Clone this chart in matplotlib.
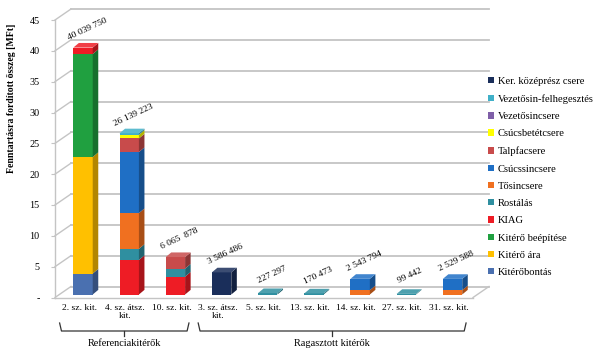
import numpy as np
import matplotlib
matplotlib.use("Agg")
import matplotlib.pyplot as plt
import matplotlib.colors as mcolors
from matplotlib.patches import Polygon, Patch
from matplotlib.transforms import offset_copy, blended_transform_factory

plt.rcParams['font.family'] = ['Liberation Serif', 'DejaVu Serif']

# categories and group brackets
categories = ["2. sz. kit.", "4. sz. átsz.\nkit.", "10. sz. kit.", "3. sz. átsz.\nkit.",
              "5. sz. kit.", "13. sz. kit.", "14. sz. kit.", "27. sz. kit.", "31. sz. kit."]
total_labels = ["40 039 750", "26 139 223", "6 065  878", "3 586 486", "227 297",
                "170 473", "2 543 794", "99 442", "2 529 588"]
groups = ["Referenciakitérők", "Ragasztott kitérők"]
group_ranges = [(0, 2), (3, 8)]

# series values [MFt], in stacking order (bottom -> top)
series_names = ["Kitérőbontás", "Kitérő ára", "Kitérő beépítése", "KIAG", "Rostálás",
                "Tősincsere", "Csúcssincsere", "Talpfacsere", "Csúcsbetétcsere",
                "Vezetősincsere", "Vezetősin-felhegesztés", "Ker. középrész csere"]
kiterobontas     = [3.4, 0, 0, 0, 0, 0, 0, 0, 0]
kitero_ara       = [18.9, 0, 0, 0, 0, 0, 0, 0, 0]
kitero_beepitese = [16.7, 0, 0, 0, 0, 0, 0, 0, 0]
kiag             = [1.04, 5.6, 2.9, 0, 0, 0, 0, 0, 0]
rostalas         = [0, 1.8, 1.3, 0, 0.227, 0.170, 0, 0.099, 0]
tosincsere       = [0, 5.8, 0, 0, 0, 0, 0.7, 0, 0.7]
csucssincsere    = [0, 9.9, 0, 0, 0, 0, 1.84, 0, 1.83]
talpfacsere      = [0, 2.2, 1.87, 0, 0, 0, 0, 0, 0]
csucsbetetcsere  = [0, 0.6, 0, 0, 0, 0, 0, 0, 0]
vezetosincsere   = [0, 0, 0, 0, 0, 0, 0, 0, 0]
vezetosin_felheg = [0, 0.24, 0, 0, 0, 0, 0, 0, 0]
ker_kozepresz    = [0, 0, 0, 3.59, 0, 0, 0, 0, 0]
series_values = [kiterobontas, kitero_ara, kitero_beepitese, kiag, rostalas, tosincsere,
                 csucssincsere, talpfacsere, csucsbetetcsere, vezetosincsere,
                 vezetosin_felheg, ker_kozepresz]
series_colors = ["#4a70b0", "#ffc000", "#20a040", "#ee1c25", "#2f8fa0", "#f07020",
                 "#1f6fc5", "#c84b4b", "#ffff00", "#7f5fa8", "#40b0c8", "#1a2e5a"]

W, H = 600, 356
fig = plt.figure(figsize=(6, 3.56), dpi=100)
ax = fig.add_axes([55 / W, (H - 297.5) / H, (473 - 55) / W, (297.5 - 20) / H])
x0, x1 = -0.52, 8.53
ax.set_xlim(x0, x1)
ax.set_ylim(0, 45)

grid_c = "#c4c4c4"
# pseudo-3D walls: depth in data units
dwx, dwy = 16 / 46.2, 11 / 6.17
yticks = np.arange(0, 46, 5)
for t in yticks:
    ax.plot([x0 + dwx, x1 + dwx], [t + dwy, t + dwy], color=grid_c, lw=1.3, clip_on=False, zorder=0)
    ax.plot([x0, x0 + dwx], [t, t + dwy], color=grid_c, lw=1.0, clip_on=False, zorder=0)
ax.plot([x1, x1 + dwx], [0, dwy], color=grid_c, lw=1.0, clip_on=False, zorder=0)

# bars
trans_bar = offset_copy(ax.transData, fig=fig, x=4, y=3, units='dots')
w, ddx, ddy = 0.42, 0.12, 0.75
xs = np.arange(len(categories))
bottom = np.zeros(len(categories))
top_color = [None] * len(categories)
for vals, col in zip(series_values, series_colors):
    vals = np.array(vals, dtype=float)
    rgb = np.array(mcolors.to_rgb(col))
    dark = rgb * 0.7
    for i in xs:
        v = vals[i]
        if v <= 0:
            continue
        b = bottom[i]
        ax.bar(i, v, w, bottom=b, color=col, lw=0, transform=trans_bar, zorder=3, clip_on=False)
        side = [(i + w / 2, b), (i + w / 2, b + v), (i + w / 2 + ddx, b + v + ddy), (i + w / 2 + ddx, b + ddy)]
        ax.add_patch(Polygon(side, closed=True, facecolor=dark, lw=0, transform=trans_bar,
                             zorder=3, clip_on=False))
        top_color[i] = rgb
    bottom += vals

for i in xs:
    T = bottom[i]
    light = top_color[i] * 0.85 + 0.15
    top = [(i - w / 2, T), (i + w / 2, T), (i + w / 2 + ddx, T + ddy), (i - w / 2 + ddx, T + ddy)]
    ax.add_patch(Polygon(top, closed=True, facecolor=light, lw=0, transform=trans_bar,
                         zorder=4, clip_on=False))
    ax.annotate(total_labels[i], xy=(i, T), xycoords=trans_bar, xytext=(4, 18),
                textcoords='offset pixels', rotation=25, ha='center', va='center', fontsize=6.8)

# axes styling
ax.set_xticks(xs)
ax.set_xticklabels(categories, fontsize=6.8, linespacing=1.0)
ax.tick_params(axis='x', length=0, pad=5)
ax.set_yticks(yticks)
ax.set_yticklabels(["-"] + [str(t) for t in yticks[1:]], fontsize=7.3)
ax.tick_params(axis='y', length=3, pad=8, color=grid_c)
for s in ["top", "right"]:
    ax.spines[s].set_visible(False)
for s in ["left", "bottom"]:
    ax.spines[s].set_color(grid_c)
    ax.spines[s].set_linewidth(1.0)
ax.patch.set_alpha(0)

fig.text(12 / W, 1 - 98 / H, "Fenntartásra fordított összeg [MFt]", rotation=90,
         fontweight='bold', fontsize=7, ha='center', va='center')

# group brackets
bt = blended_transform_factory(ax.transData, fig.transFigure)
def fy(p):
    return 1 - p / H
for name, (a, b) in zip(groups, group_ranges):
    left, right = a - 0.42, b + 0.38
    mid = (left + right) / 2
    ax.plot([left, left + 0.04, right - 0.04, right], [fy(323), fy(331), fy(331), fy(323)],
            color="#333333", lw=0.9, transform=bt, clip_on=False)
    ax.plot([mid, mid], [fy(331), fy(336)], color="#333333", lw=0.9, transform=bt, clip_on=False)
    ax.text(mid, fy(343), name, transform=bt, ha='center', va='center', fontsize=7.4)

# legend (reverse of stacking order)
handles = [Patch(facecolor=c) for c in series_colors][::-1]
fig.legend(handles, series_names[::-1], loc='upper left', bbox_to_anchor=(488 / W, 1 - 77 / H),
           frameon=False, fontsize=7.6, handlelength=0.55, handleheight=0.55, handletextpad=0.35,
           labelspacing=0.78, borderpad=0, borderaxespad=0)

fig.savefig("out.png", dpi=100)
